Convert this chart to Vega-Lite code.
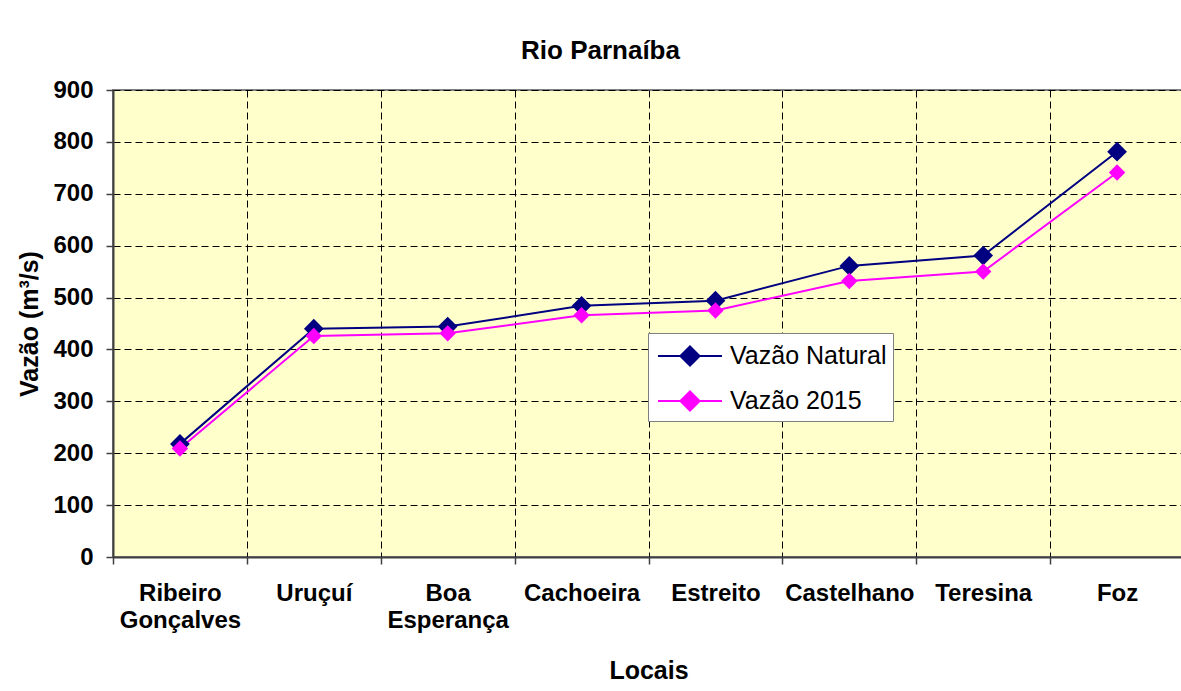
{
  "$schema": "https://vega.github.io/schema/vega-lite/v6.json",
  "width": 1071,
  "height": 467,
  "autosize": {"type": "none"},
  "padding": {"left": 113, "top": 90, "right": 0, "bottom": 134},
  "background": "white",
  "title": {
    "text": "Rio Parnaíba",
    "anchor": "middle",
    "dx": -48,
    "offset": 14,
    "font": "Liberation Sans",
    "fontSize": 26,
    "fontWeight": "bold",
    "color": "black"
  },
  "config": {
    "view": {"fill": "#FFFFCC", "stroke": "#808080", "strokeWidth": 2},
    "font": "Liberation Sans"
  },
  "data": {
    "values": [
      {"local": "Ribeiro Gonçalves", "serie": "Vazão Natural", "vazao": 218},
      {"local": "Uruçuí", "serie": "Vazão Natural", "vazao": 440},
      {"local": "Boa Esperança", "serie": "Vazão Natural", "vazao": 444},
      {"local": "Cachoeira", "serie": "Vazão Natural", "vazao": 484},
      {"local": "Estreito", "serie": "Vazão Natural", "vazao": 494},
      {"local": "Castelhano", "serie": "Vazão Natural", "vazao": 561},
      {"local": "Teresina", "serie": "Vazão Natural", "vazao": 581},
      {"local": "Foz", "serie": "Vazão Natural", "vazao": 781},
      {"local": "Ribeiro Gonçalves", "serie": "Vazão 2015", "vazao": 209},
      {"local": "Uruçuí", "serie": "Vazão 2015", "vazao": 426},
      {"local": "Boa Esperança", "serie": "Vazão 2015", "vazao": 431},
      {"local": "Cachoeira", "serie": "Vazão 2015", "vazao": 466},
      {"local": "Estreito", "serie": "Vazão 2015", "vazao": 475},
      {"local": "Castelhano", "serie": "Vazão 2015", "vazao": 532},
      {"local": "Teresina", "serie": "Vazão 2015", "vazao": 550},
      {"local": "Foz", "serie": "Vazão 2015", "vazao": 741}
    ]
  },
  "encoding": {
    "x": {
      "field": "local",
      "type": "nominal",
      "sort": null,
      "scale": {"type": "band", "paddingInner": 0, "paddingOuter": 0},
      "axis": {
        "title": "Locais",
        "titleFontSize": 25,
        "titleFontWeight": "bold",
        "titleColor": "black",
        "titlePadding": 26,
        "labelAngle": 0,
        "labelFontSize": 24,
        "labelFontWeight": "bold",
        "labelColor": "black",
        "labelPadding": 17,
        "labelLineHeight": 27,
        "labelBaseline": "top",
        "labelExpr": "split(datum.label, ' ')",
        "tickBand": "extent",
        "tickSize": 7,
        "tickColor": "#404040",
        "tickWidth": 1.5,
        "domainColor": "#404040",
        "domainWidth": 2,
        "grid": true,
        "gridColor": "black",
        "gridDash": [7, 4],
        "gridWidth": 1
      }
    },
    "y": {
      "field": "vazao",
      "type": "quantitative",
      "scale": {"domain": [0, 900], "nice": false},
      "axis": {
        "values": [0, 100, 200, 300, 400, 500, 600, 700, 800, 900],
        "title": "Vazão (m³/s)",
        "titleFontSize": 25,
        "titleFontWeight": "bold",
        "titleColor": "black",
        "titlePadding": 10,
        "labelFontSize": 24,
        "labelFontWeight": "bold",
        "labelColor": "black",
        "labelPadding": 13,
        "tickSize": 7,
        "tickColor": "#404040",
        "tickWidth": 1.5,
        "domainColor": "#404040",
        "domainWidth": 2,
        "grid": true,
        "gridColor": "black",
        "gridDash": [7, 4],
        "gridWidth": 1
      }
    },
    "color": {
      "field": "serie",
      "type": "nominal",
      "sort": ["Vazão Natural", "Vazão 2015"],
      "scale": {"domain": ["Vazão Natural", "Vazão 2015"], "range": ["#000080", "#FF00FF"]},
      "legend": {
        "title": null,
        "orient": "none",
        "legendX": 535,
        "legendY": 243,
        "fillColor": "white",
        "strokeColor": "#808080",
        "padding": 6,
        "labelFont": "Liberation Sans",
        "labelFontSize": 25,
        "labelColor": "black",
        "labelOffset": 23,
        "symbolOffset": 19,
        "rowPadding": 14,
        "symbolType": "M-2,0L2,0M0,-0.6L0.6,0L0,0.6L-0.6,0Z",
        "symbolSize": 1024,
        "symbolStrokeWidth": 2,
        "encode": {
          "symbols": {"update": {"fill": {"scale": "color", "field": "value"}, "stroke": {"scale": "color", "field": "value"}, "opacity": {"value": 1}}}
        }
      }
    }
  },
  "layer": [
    {"mark": {"type": "line", "strokeWidth": 2}},
    {
      "transform": [{"filter": "datum.serie === 'Vazão Natural'"}],
      "mark": {"type": "point", "shape": "diamond", "filled": true, "opacity": 1, "size": 390}
    },
    {
      "transform": [{"filter": "datum.serie === 'Vazão 2015'"}],
      "mark": {"type": "point", "shape": "diamond", "filled": true, "opacity": 1, "size": 270}
    }
  ]
}
